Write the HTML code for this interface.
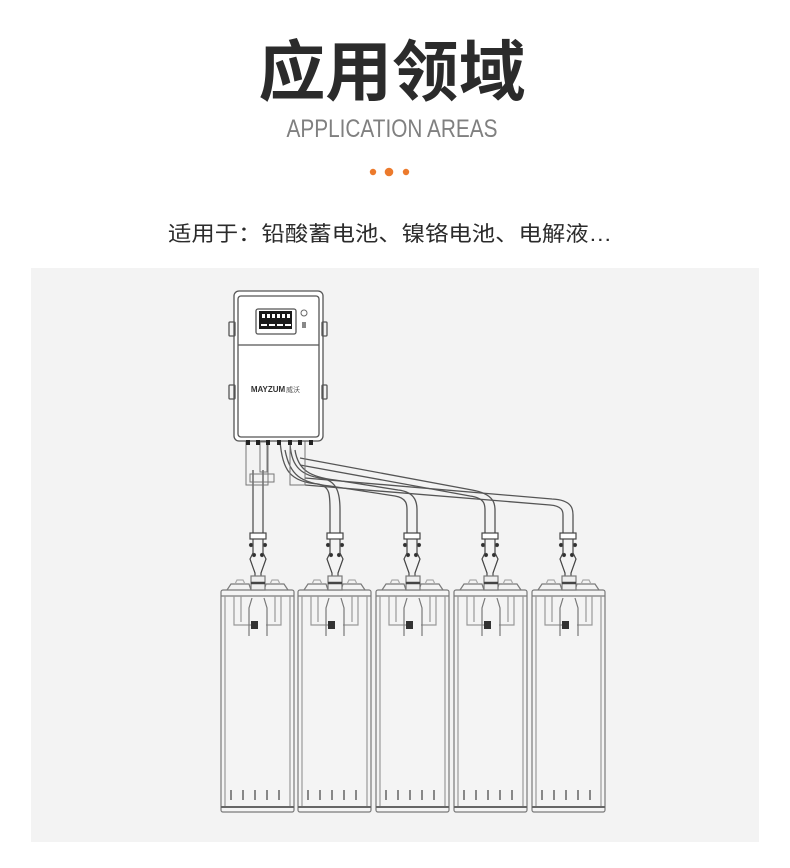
<!DOCTYPE html>
<html><head><meta charset="utf-8"><style>
html,body{margin:0;padding:0;background:#fff;}
svg{display:block;}
</style></head><body>
<svg width="790" height="868" viewBox="0 0 790 868" xmlns="http://www.w3.org/2000/svg">
<rect width="790" height="868" fill="#fff"/>
<text x="392" y="95" text-anchor="middle" font-family="'Liberation Sans','Noto Sans CJK SC',sans-serif" font-weight="bold" font-size="66" fill="#2b2b2b" textLength="267" lengthAdjust="spacingAndGlyphs">应用领域</text>
<text x="392" y="137" text-anchor="middle" font-family="'Liberation Sans',sans-serif" font-size="25" fill="#808080" textLength="211" lengthAdjust="spacingAndGlyphs">APPLICATION AREAS</text>
<circle cx="373" cy="172" r="3.2" fill="#ec7a2c"/>
<circle cx="389" cy="172" r="4.3" fill="#ec7a2c"/>
<circle cx="406" cy="172" r="3.2" fill="#ec7a2c"/>
<text x="168" y="241" font-family="'Liberation Sans','Noto Sans CJK SC',sans-serif" font-size="21" fill="#2b2b2b" textLength="444" lengthAdjust="spacingAndGlyphs">适用于：铅酸蓄电池、镍铬电池、电解液…</text>
<rect x="31" y="268" width="728" height="574" fill="#f3f3f3"/>

<defs>
<g id="bat" fill="none" stroke="#7a7a7a" stroke-width="1.2">
  <rect x="0" y="12" width="73" height="222" rx="2" fill="#f4f4f4"/>
  <line x1="0" y1="18" x2="73" y2="18"/>
  <line x1="4" y1="18" x2="4" y2="230" stroke="#999"/><line x1="69" y1="18" x2="69" y2="230" stroke="#999"/>
  <line x1="0" y1="229" x2="73" y2="229" stroke-width="2" stroke="#666"/>
  <path d="M6 12 L10 6 L28 6 L30 12 M43 12 L45 6 L63 6 L67 12"/>
  <path d="M14 6 L16 2 L22 2 L24 6 M49 6 L51 2 L57 2 L59 6" stroke="#aaa"/>
  <path d="M13 18 V47 H30 M60 18 V47 H45 M20 18 V44 M54 18 V44" stroke="#999"/>
  <path d="M31 20 L28 30 V58 M43 20 L46 30 V58"/>
  <rect x="30" y="43" width="7" height="8" fill="#333" stroke="none"/>
  <path d="M10 222 V212 M22 222 V212 M34 222 V212 M46 222 V212 M58 222 V212" stroke="#888" stroke-width="2"/>
  <rect x="30" y="-2" width="14" height="14" fill="#eee"/>
  <line x1="30" y1="5" x2="44" y2="5" stroke-width="2.5" stroke="#444"/>
</g>
<g id="conn" fill="none" stroke="#444" stroke-width="1.2">
  <path d="M0 0 V20 L-3 26 L2 40 V52 M10 0 V20 L13 26 L8 40 V52"/>
  <rect x="-3" y="0" width="16" height="6" fill="#fff"/>
  <circle cx="-2" cy="12" r="1.5" fill="#222"/><circle cx="12" cy="12" r="1.5" fill="#222"/>
  <circle cx="1" cy="22" r="1.5" fill="#222"/><circle cx="9" cy="22" r="1.5" fill="#222"/>
</g>
</defs>

<g fill="none" stroke="#555" stroke-width="1.3">
  <path d="M253 470 V533 M263 470 V533"/>
  <path d="M280 440 C282 470 290 482 318 484 C330 486 330 495 330 510 V533 M290 440 C290 465 300 475 320 478 C338 480 340 495 340 510 V533"/>
  <path d="M285 450 C290 475 300 483 330 486 L395 496 C407 498 407 505 407 510 V533 M295 450 C298 470 310 477 335 480 L398 490 C417 492 417 505 417 510 V533"/>
  <path d="M300 465 L470 496 C485 498 485 505 485 510 V533 M300 458 L472 490 C495 494 495 505 495 510 V533"/>
  <path d="M305 485 L550 505 C563 506 563 512 563 515 V533 M305 478 L552 499 C573 500 573 510 573 515 V533"/>
</g>
<g fill="none" stroke="#777" stroke-width="1">
  <rect x="246" y="440" width="22" height="45"/>
  <rect x="290" y="440" width="15" height="45"/>
  <rect x="260" y="442" width="7" height="30"/>
  <rect x="250" y="474" width="24" height="8"/>
</g>
<use href="#conn" x="253" y="533"/>
<use href="#conn" x="330" y="533"/>
<use href="#conn" x="407" y="533"/>
<use href="#conn" x="485" y="533"/>
<use href="#conn" x="563" y="533"/>

<use href="#bat" x="221" y="578"/>
<use href="#bat" x="298" y="578"/>
<use href="#bat" x="376" y="578"/>
<use href="#bat" x="454" y="578"/>
<use href="#bat" x="532" y="578"/>

<g fill="none" stroke="#555" stroke-width="1.3">
  <rect x="234" y="291" width="89" height="150" rx="5" fill="#fff"/>
  <rect x="238" y="296" width="81" height="141" rx="3"/>
  <line x1="238" y1="345" x2="319" y2="345"/>
  <rect x="229" y="322" width="6" height="14" rx="1"/><rect x="229" y="385" width="6" height="14" rx="1"/>
  <rect x="322" y="322" width="5" height="14" rx="1"/><rect x="322" y="385" width="5" height="14" rx="1"/>
  <rect x="256" y="309" width="40" height="25" rx="2"/>
</g>
<rect x="259" y="311" width="33" height="18" fill="#1a1a1a"/>
<g fill="#fff"><rect x="262" y="314" width="3" height="4"/><rect x="267" y="314" width="3" height="4"/><rect x="272" y="314" width="3" height="4"/><rect x="277" y="314" width="3" height="4"/><rect x="282" y="314" width="3" height="4"/><rect x="287" y="314" width="3" height="4"/>
<rect x="261" y="324" width="6" height="2"/><rect x="269" y="324" width="6" height="2"/><rect x="277" y="324" width="6" height="2"/><rect x="285" y="324" width="6" height="2"/></g>
<circle cx="304" cy="313" r="3" fill="none" stroke="#666"/>
<rect x="302" y="322" width="4" height="6" fill="#888"/>
<text x="268" y="392" text-anchor="middle" font-family="'Liberation Sans',sans-serif" font-weight="bold" font-size="8" fill="#333">MAYZUM</text>
<text x="293" y="392" text-anchor="middle" font-family="'Liberation Sans','Noto Sans CJK SC',sans-serif" font-size="7" fill="#555">威沃</text>
<g fill="#222"><rect x="246" y="440" width="4" height="5"/><rect x="256" y="440" width="4" height="5"/><rect x="266" y="440" width="4" height="5"/><rect x="277" y="440" width="4" height="5"/><rect x="288" y="440" width="4" height="5"/><rect x="298" y="440" width="4" height="5"/><rect x="309" y="440" width="4" height="5"/></g>
</svg>
</body></html>
